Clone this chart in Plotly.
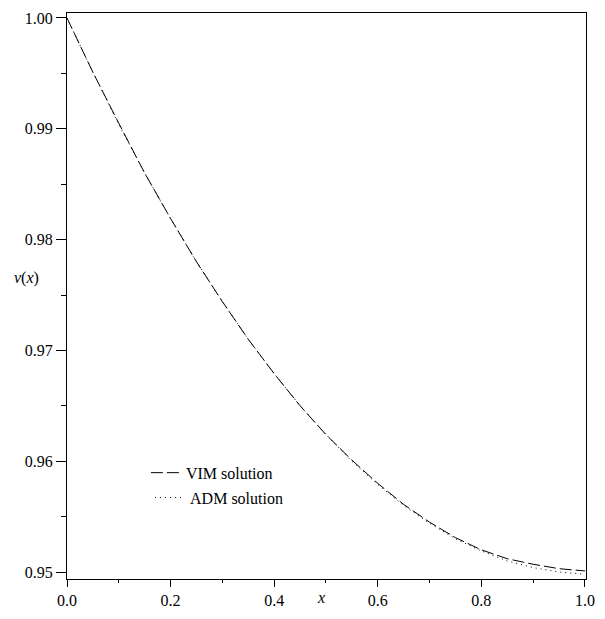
import plotly.graph_objects as go

x_vals = [0.00, 0.05, 0.10, 0.15, 0.20, 0.25, 0.30, 0.35, 0.40, 0.45, 0.50,
          0.55, 0.60, 0.65, 0.70, 0.75, 0.80, 0.85, 0.90, 0.95, 1.00]
vim_vals = [1.0000, 0.9951, 0.9905, 0.9860, 0.9819, 0.9780, 0.9744, 0.9710, 0.9679, 0.9650, 0.9624,
            0.9601, 0.9580, 0.9561, 0.9545, 0.9531, 0.9520, 0.9512, 0.9507, 0.9503, 0.9501]
adm_vals = [1.0000, 0.9951, 0.9904, 0.9860, 0.9819, 0.9780, 0.9744, 0.9710, 0.9679, 0.9650, 0.9624,
            0.9600, 0.9579, 0.9560, 0.9544, 0.9530, 0.9519, 0.9510, 0.9504, 0.9500, 0.9498]
series_names = ["VIM solution", "ADM solution"]
x_ticks = [0.0, 0.2, 0.4, 0.6, 0.8, 1.0]
y_ticks = [0.95, 0.96, 0.97, 0.98, 0.99, 1.00]

FONT = "Liberation Serif"

fig = go.Figure()
fig.add_trace(go.Scatter(x=x_vals, y=vim_vals, mode="lines", name=series_names[0],
                         line=dict(color="black", width=1, dash="12px,4px"),
                         legend="legend", showlegend=True))
fig.add_trace(go.Scatter(x=x_vals, y=adm_vals, mode="lines", name=series_names[1],
                         line=dict(color="black", width=1, dash="1px,4px"),
                         legend="legend2", showlegend=True))

axis_common = dict(showline=True, linecolor="black", linewidth=1, mirror=True,
                   showgrid=False, zeroline=False, ticks="outside", tickcolor="black",
                   tickfont=dict(family=FONT, size=16, color="black"))

fig.update_layout(
    width=605, height=619,
    showlegend=True,
    margin=dict(l=67, r=10, t=11, b=38),
    plot_bgcolor="white", paper_bgcolor="white",
    xaxis=dict(range=[0, 1.002], tickvals=x_ticks, tickformat=".1f", ticklen=7,
               minor=dict(dtick=0.1, tick0=0, ticklen=3, ticks="outside", tickcolor="black"),
               **axis_common),
    yaxis=dict(range=[0.94937, 1.00045], tickvals=y_ticks, tickformat=".2f", ticklen=10,
               minor=dict(dtick=0.005, tick0=0.95, ticklen=5, ticks="outside", tickcolor="black"),
               **axis_common),
    legend=dict(x=0.152, y=0.1877, xanchor="left", yanchor="middle",
                font=dict(family=FONT, size=16, color="black"), bgcolor="rgba(0,0,0,0)"),
    legend2=dict(x=0.160, y=0.1439, xanchor="left", yanchor="middle",
                 font=dict(family=FONT, size=16, color="black"), bgcolor="rgba(0,0,0,0)"),
    annotations=[
        dict(text="<i>x</i>", xref="paper", yref="paper", x=(325 - 67) / 528, y=-19 / 570,
             xanchor="center", yanchor="middle", showarrow=False,
             font=dict(family=FONT, size=16, color="black")),
        dict(text="<i>v</i>(<i>x</i>)", xref="paper", yref="paper", x=-41 / 528, y=(581 - 278) / 570,
             xanchor="center", yanchor="middle", showarrow=False,
             font=dict(family=FONT, size=16, color="black")),
    ],
)

fig.write_html("out.html")
